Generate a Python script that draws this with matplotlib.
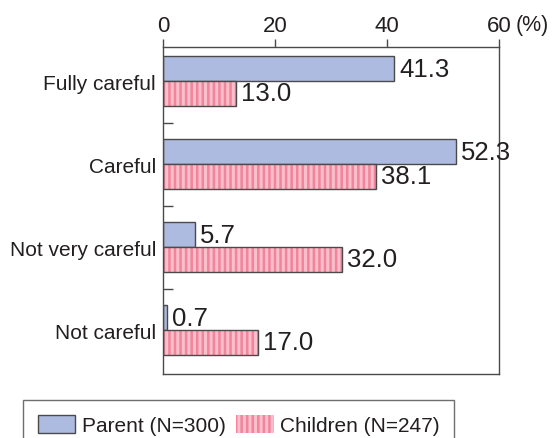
import matplotlib
matplotlib.use("Agg")
import matplotlib.pyplot as plt
import numpy as np
from matplotlib.patches import Patch

categories = ["Fully careful", "Careful", "Not very careful", "Not careful"]
parent = [41.3, 52.3, 5.7, 0.7]
children = [13.0, 38.1, 32.0, 17.0]
xticks = [0, 20, 40, 60]
legend_labels = ["Parent (N=300)", "Children (N=247)"]

plt.rcParams['font.family'] = ['Liberation Sans', 'DejaVu Sans']
plt.rcParams['hatch.linewidth'] = 1.8
TXT = '#231f20'
EDGE = '#4a4a4a'
PARENT_FC = '#aebbe0'
CHILD_FC = '#f9bfca'
CHILD_HATCH = '#f2849c'

fig = plt.figure(figsize=(5.53, 4.39), dpi=100)
ax = fig.add_axes([163/553, 1-375/439, 336/553, 327/439])

y = np.arange(len(categories))
h = 0.30
ax.barh(y - h/2, parent, height=h, color=PARENT_FC, edgecolor=EDGE, linewidth=1.0)
ax.barh(y + h/2, children, height=h, color=CHILD_FC, edgecolor=CHILD_HATCH,
        hatch='|||', linewidth=0)
ax.barh(y + h/2, children, height=h, color='none', edgecolor=EDGE, linewidth=1.0)

for yi, v in zip(y, parent):
    ax.text(v + 0.9, yi - h/2, f"{v:.1f}", va='center', ha='left', fontsize=18.5, color=TXT)
for yi, v in zip(y, children):
    ax.text(v + 0.9, yi + h/2, f"{v:.1f}", va='center', ha='left', fontsize=18.5, color=TXT)

ax.set_xlim(0, 60)
ax.set_ylim(3.53, -0.41)
ax.xaxis.tick_top()
ax.set_xticks(xticks)
ax.set_xticklabels([str(t) for t in xticks], fontsize=16, color=TXT)
ax.tick_params(axis='x', direction='out', length=6, width=1.0, color=EDGE, pad=1.8)
ax.set_yticks(y)
ax.set_yticklabels(categories, fontsize=15, color=TXT)
ax.tick_params(axis='y', which='major', length=0, pad=5)
ax.set_yticks([0.5, 1.5, 2.5], minor=True)
ax.tick_params(axis='y', which='minor', direction='in', length=7, width=1.0, color=EDGE)
for s in ax.spines.values():
    s.set_color(EDGE)
    s.set_linewidth(1.0)

fig.text(516/553, 1-25/439, "(%)", fontsize=15.5, color=TXT, va='center', ha='left')

handles = [Patch(facecolor=PARENT_FC, edgecolor=EDGE, linewidth=1.0),
           Patch(facecolor=CHILD_FC, edgecolor=CHILD_HATCH, hatch='|||', linewidth=0)]
leg = fig.legend(handles, legend_labels, loc='upper left',
                 bbox_to_anchor=(23/553, 1-401/439), ncol=2, fontsize=15,
                 frameon=True, fancybox=False, handlelength=1.8, handleheight=0.95,
                 handletextpad=0.32, columnspacing=0.5, borderpad=0.7,
                 borderaxespad=0)
leg.get_frame().set_edgecolor(EDGE)
leg.get_frame().set_linewidth(1.0)
for t in leg.get_texts():
    t.set_color(TXT)

fig.savefig("out.png", dpi=100)
